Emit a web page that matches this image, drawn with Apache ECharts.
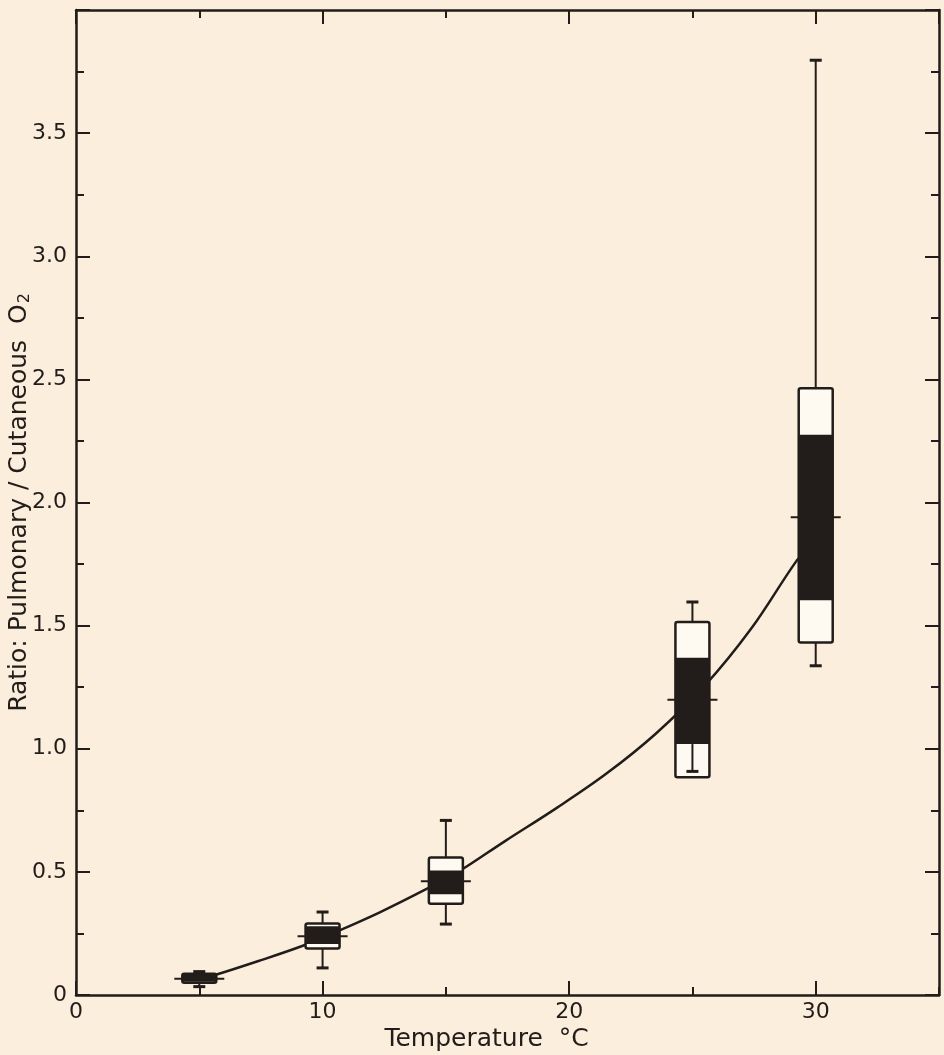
<!DOCTYPE html>
<html>
<head>
<meta charset="utf-8">
<script src="https://cdn.jsdelivr.net/npm/echarts@6/dist/echarts.min.js"></script>
<style>
html,body{margin:0;padding:0;background:#fbeedd;}
#c{width:944px;height:1055px;}
</style>
</head>
<body>
<div id="c"></div>
<script>
// ---- data ----
const temps      = [5, 10, 15, 25, 30];
const maxVals    = [0.095, 0.337, 0.709, 1.596, 3.796];
const outerHigh  = [0.086, 0.290, 0.558, 1.515, 2.464];
const innerHigh  = [0.082, 0.279, 0.506, 1.370, 2.275];
const means      = [0.066, 0.239, 0.462, 1.199, 1.940];
const innerLow   = [0.054, 0.207, 0.409, 1.019, 1.603];
const outerLow   = [0.050, 0.189, 0.371, 0.884, 1.431];
const minVals    = [0.034, 0.110, 0.288, 0.908, 1.337];

const curveX = [5.0, 5.6, 7.4, 9.2, 10.4, 12.3, 14.2, 15.5, 17.4, 19.5, 21.5, 23.5, 25.5, 27.4, 29.2, 29.6];
const curveY = [0.065, 0.080, 0.138, 0.200, 0.250, 0.335, 0.430, 0.500, 0.625, 0.760, 0.898, 1.060, 1.256, 1.490, 1.760, 1.800];

const xTickLabels = ['0', '10', '20', '30'];
const yTickLabels = ['0', '0.5', '1.0', '1.5', '2.0', '2.5', '3.0', '3.5'];

const xTitle = 'Temperature  °C';
const yTitle = 'Ratio: Pulmonary / Cutaneous  O{sub|2}';

// ---- chart ----
const ink = '#221d1a';
const font = 'DejaVu Sans';
const chart = echarts.init(document.getElementById('c'), null, {renderer: 'canvas'});

const boxData = temps.map((t, i) => [t, maxVals[i], outerHigh[i], innerHigh[i], means[i], innerLow[i], outerLow[i], minVals[i]]);
const lineData = curveX.map((x, i) => [x, curveY[i]]);

function xAxisDef(pos, interval, len, main) {
  return {
    type: 'value', min: 0, max: 35, interval: interval, position: pos,
    axisLine: {show: main, onZero: false, lineStyle: {color: ink, width: 2.5}},
    axisTick: {show: true, inside: true, length: len, lineStyle: {color: ink, width: 2}},
    axisLabel: {show: false},
    splitLine: {show: false}
  };
}
function yAxisDef(pos, labels) {
  return {
    type: 'value', min: 0, max: 4, interval: 0.5, position: pos,
    axisLine: {show: true, onZero: false, lineStyle: {color: ink, width: 2.5}},
    axisTick: {show: true, inside: true, length: 14, lineStyle: {color: ink, width: 2}},
    minorTick: {show: true, splitNumber: 2, length: 8, lineStyle: {color: ink, width: 2}},
    axisLabel: labels ? {
      show: true, showMaxLabel: false, margin: 9, fontSize: 22, fontFamily: font, color: ink,
      formatter: v => { const k = Math.round(v / 0.5); return yTickLabels[k] !== undefined ? yTickLabels[k] : ''; }
    } : {show: false},
    splitLine: {show: false},
    minorSplitLine: {show: false}
  };
}

const xMain = xAxisDef('bottom', 10, 14, true);
xMain.axisLabel = {
  show: true, showMaxLabel: false, margin: 6, fontSize: 22, fontFamily: font, color: ink,
  formatter: v => { const k = Math.round(v / 10); return (v % 10 === 0 && xTickLabels[k] !== undefined) ? xTickLabels[k] : ''; }
};
xMain.name = xTitle;
xMain.nameLocation = 'middle';
xMain.nameGap = 32;
xMain.nameMoveOverlap = false;
xMain.nameTextStyle = {fontSize: 25, fontFamily: font, color: ink, padding: [0, 42, 0, 0]};

const yMain = yAxisDef('left', true);
yMain.name = yTitle;
yMain.nameLocation = 'middle';
yMain.nameRotate = 90;
yMain.nameGap = 43;
yMain.nameMoveOverlap = false;
yMain.nameTextStyle = {
  fontSize: 25, fontFamily: font, color: ink,
  rich: {sub: {fontSize: 16, fontFamily: font, color: ink, padding: [12, 0, 0, 1]}}
};

const option = {
  backgroundColor: '#fbeedd',
  animation: false,
  grid: {left: 76, right: 5, top: 10, bottom: 60, containLabel: false, outerBoundsMode: 'none'},
  xAxis: [
    xMain,
    xAxisDef('top', 10, 14, true),
    xAxisDef('bottom', 5, 8, false),
    xAxisDef('top', 5, 8, false)
  ],
  yAxis: [yMain, yAxisDef('right', false)],
  series: [
    {
      type: 'line', xAxisIndex: 0, yAxisIndex: 0, data: lineData,
      smooth: 0.35, symbol: 'none', z: 2,
      lineStyle: {color: ink, width: 2.5}
    },
    {
      type: 'custom', xAxisIndex: 0, yAxisIndex: 0, data: boxData, z: 3,
      encode: {x: 0, y: [1, 2, 3, 4, 5, 6, 7]},
      renderItem: function (params, api) {
        const x = api.value(0);
        const mx = api.value(1), oh = api.value(2), ih = api.value(3), mn = api.value(4),
              il = api.value(5), ol = api.value(6), mi = api.value(7);
        const py = v => api.coord([x, v])[1];
        const cx = api.coord([x, mn])[0];
        const hw = 17, over = 8, cap = 6;
        const yMax = py(mx), yOH = py(oh), yIH = py(ih), yMn = py(mn), yIL = py(il), yOL = py(ol), yMin = py(mi);
        const upStart = mx > oh ? yOH : yIH;
        const lowStart = mi < ol ? yOL : yIL;
        return {
          type: 'group',
          children: [
            {type: 'line', shape: {x1: cx - hw - over, y1: yMn, x2: cx + hw + over, y2: yMn}, style: {stroke: ink, lineWidth: 2}},
            {type: 'rect', shape: {x: cx - hw, y: yOH, width: 2 * hw, height: yOL - yOH, r: 2}, style: {fill: '#fffaf1', stroke: ink, lineWidth: 2.5}},
            {type: 'rect', shape: {x: cx - hw, y: yIH, width: 2 * hw, height: yIL - yIH}, style: {fill: ink}},
            {type: 'line', shape: {x1: cx, y1: upStart, x2: cx, y2: yMax}, style: {stroke: ink, lineWidth: 2}},
            {type: 'line', shape: {x1: cx, y1: lowStart, x2: cx, y2: yMin}, style: {stroke: ink, lineWidth: 2}},
            {type: 'line', shape: {x1: cx - cap, y1: yMax, x2: cx + cap, y2: yMax}, style: {stroke: ink, lineWidth: 3}},
            {type: 'line', shape: {x1: cx - cap, y1: yMin, x2: cx + cap, y2: yMin}, style: {stroke: ink, lineWidth: 3}}
          ]
        };
      }
    }
  ]
};
chart.setOption(option);
</script>
</body>
</html>
